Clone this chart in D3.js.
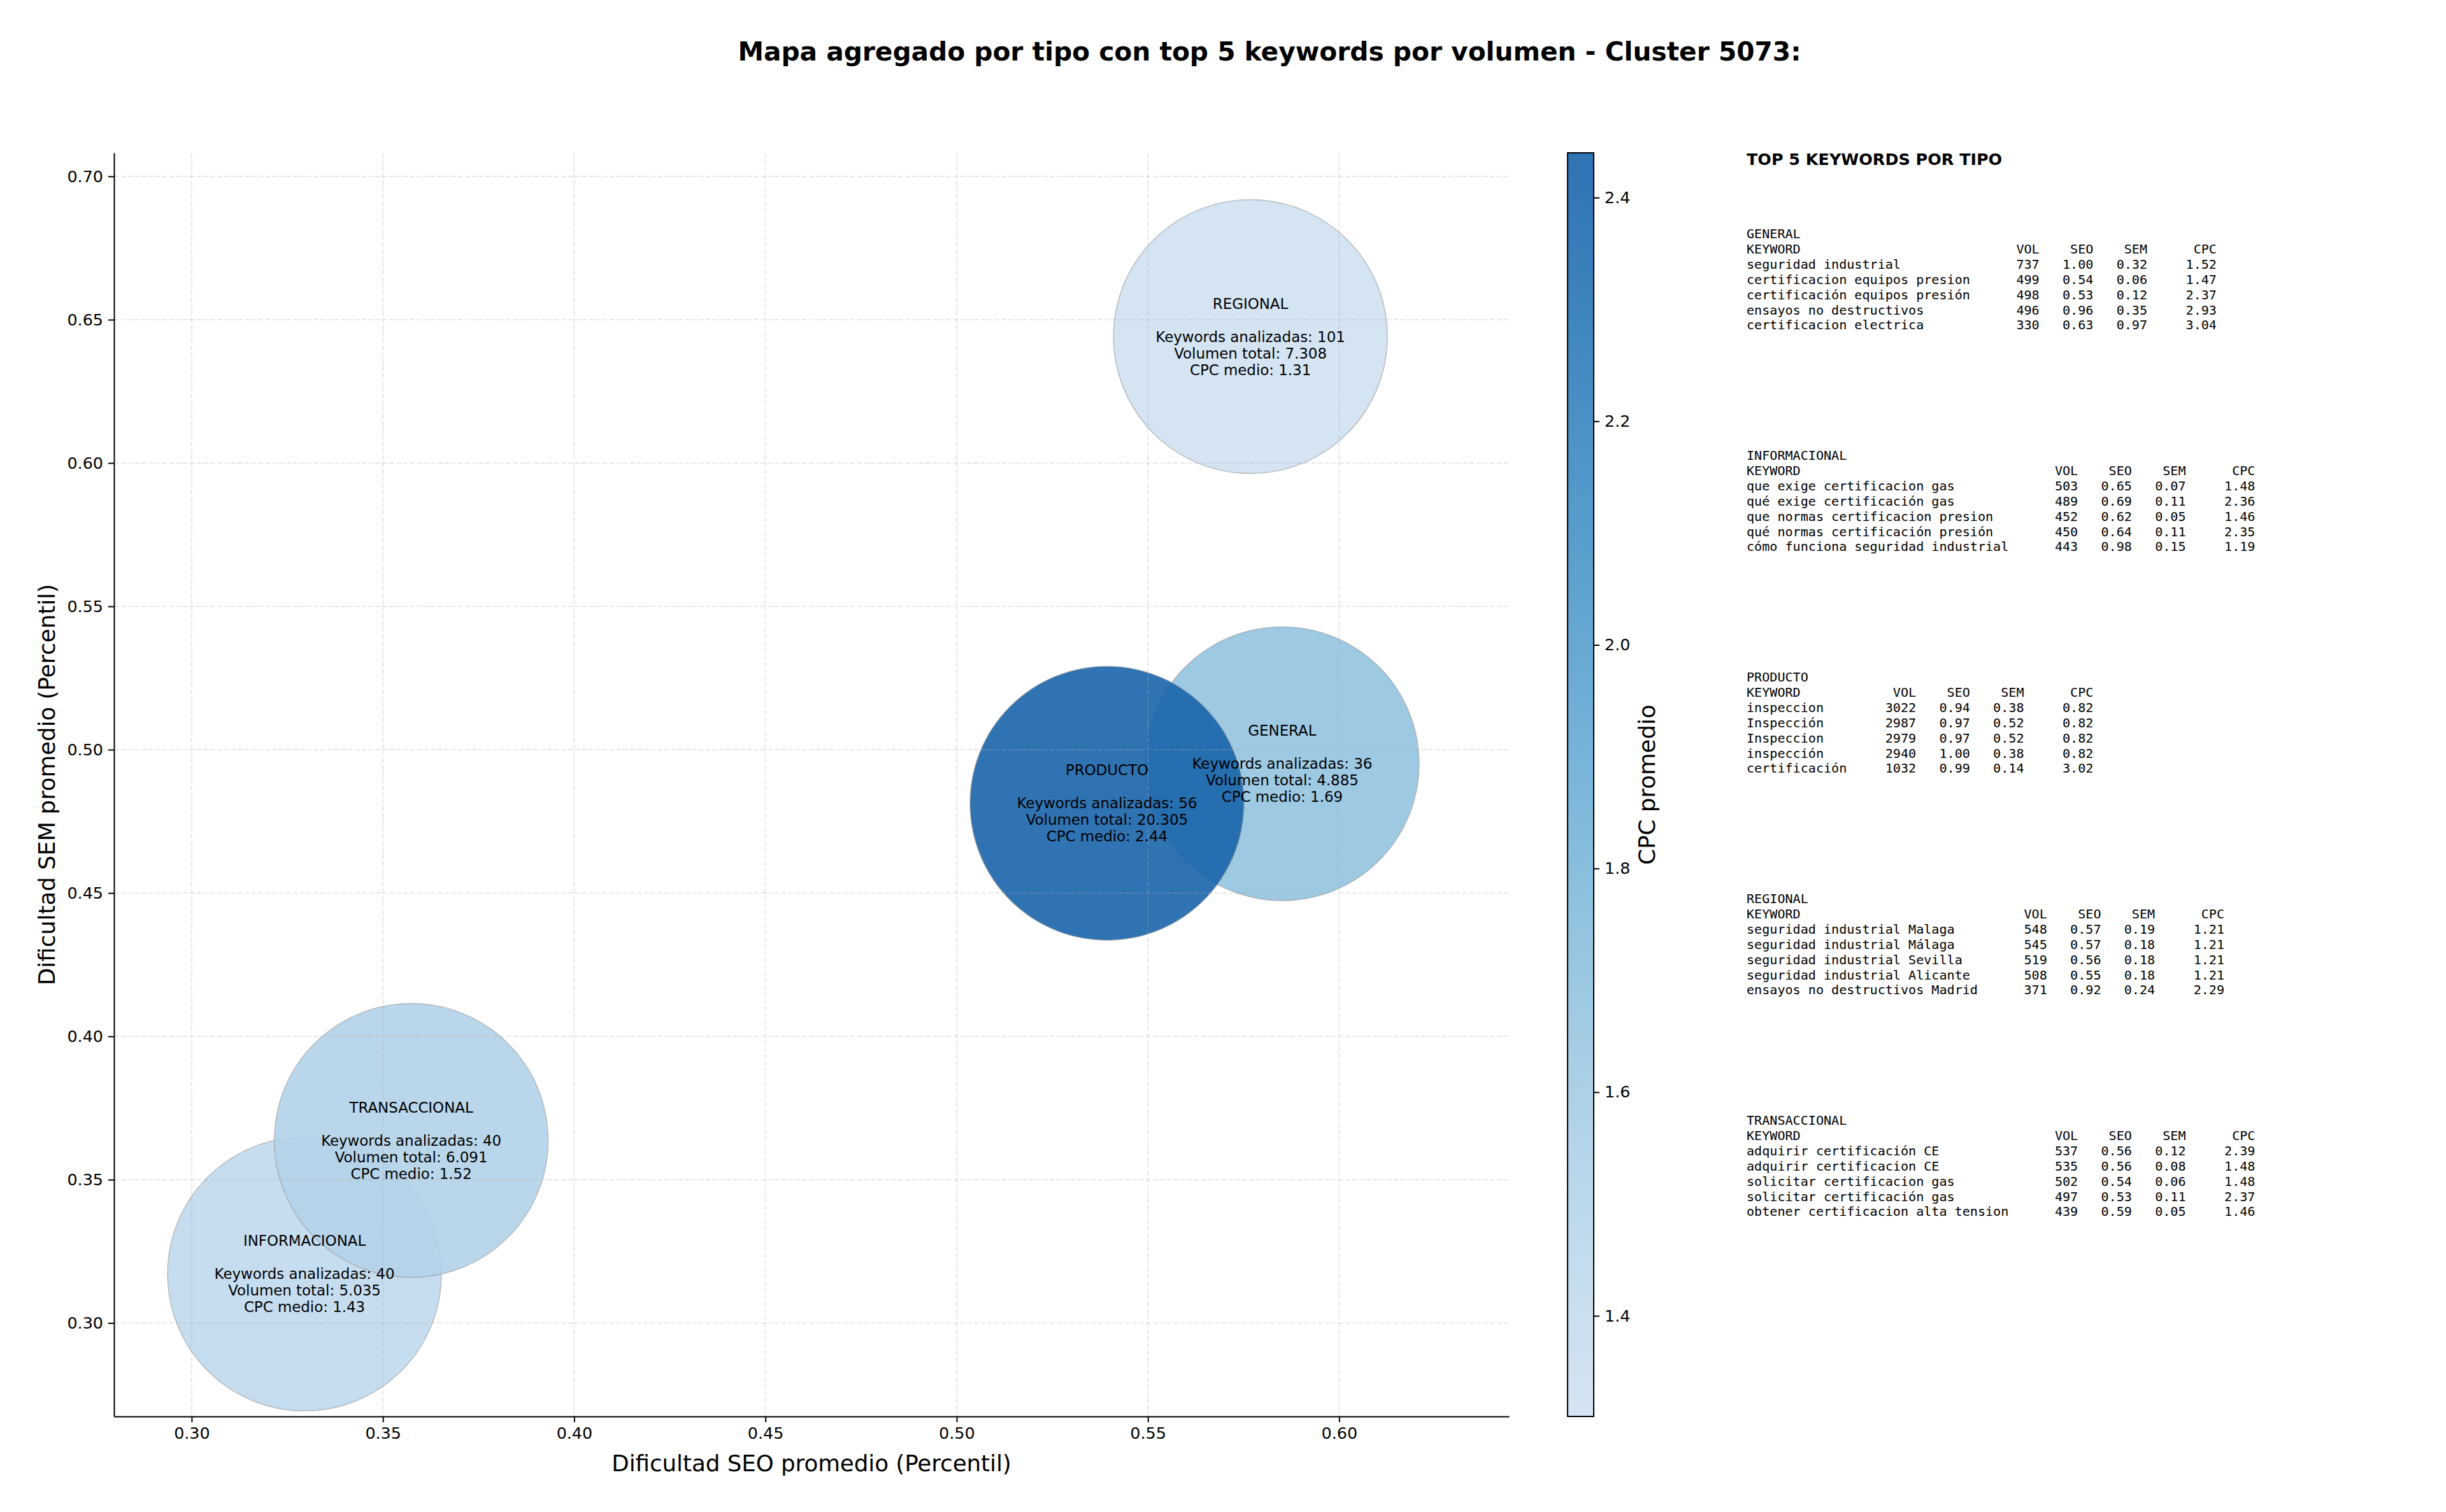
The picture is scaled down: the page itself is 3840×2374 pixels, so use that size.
<!DOCTYPE html>
<html>
<head>
<meta charset="utf-8">
<script src="https://cdn.jsdelivr.net/npm/d3@7"></script>
<style>
  body { margin: 0; background: #fff; }
  text { font-family: "DejaVu Sans", sans-serif; fill: #000; }
  .mono { font-family: "DejaVu Sans Mono", monospace; white-space: pre; }
</style>
</head>
<body>
<svg id="chart" width="3840" height="2374"></svg>
<script>

// aggregated values per tipo
const tipos = ["GENERAL", "INFORMACIONAL", "PRODUCTO", "REGIONAL", "TRANSACCIONAL"];
const seoProm = [0.5851, 0.3295, 0.5393, 0.5768, 0.3574];
const semProm = [0.4951, 0.3171, 0.4813, 0.6441, 0.3637];
const numKeywords = [36, 40, 56, 101, 40];
const volTotal = [4885, 5035, 20305, 7308, 6091];
const cpcMedio = [1.69, 1.43, 2.44, 1.31, 1.52];

// tick values
const xTicks = [0.30, 0.35, 0.40, 0.45, 0.50, 0.55, 0.60];
const yTicks = [0.30, 0.35, 0.40, 0.45, 0.50, 0.55, 0.60, 0.65, 0.70];
const cbTicks = [1.4, 1.6, 1.8, 2.0, 2.2, 2.4];

// top 5 keywords per tipo: keyword, vol, seo, sem, cpc
const kwGeneral = [
  ["seguridad industrial", 737, 1.00, 0.32, 1.52],
  ["certificacion equipos presion", 499, 0.54, 0.06, 1.47],
  ["certificación equipos presión", 498, 0.53, 0.12, 2.37],
  ["ensayos no destructivos", 496, 0.96, 0.35, 2.93],
  ["certificacion electrica", 330, 0.63, 0.97, 3.04]
];
const kwInformacional = [
  ["que exige certificacion gas", 503, 0.65, 0.07, 1.48],
  ["qué exige certificación gas", 489, 0.69, 0.11, 2.36],
  ["que normas certificacion presion", 452, 0.62, 0.05, 1.46],
  ["qué normas certificación presión", 450, 0.64, 0.11, 2.35],
  ["cómo funciona seguridad industrial", 443, 0.98, 0.15, 1.19]
];
const kwProducto = [
  ["inspeccion", 3022, 0.94, 0.38, 0.82],
  ["Inspección", 2987, 0.97, 0.52, 0.82],
  ["Inspeccion", 2979, 0.97, 0.52, 0.82],
  ["inspección", 2940, 1.00, 0.38, 0.82],
  ["certificación", 1032, 0.99, 0.14, 3.02]
];
const kwRegional = [
  ["seguridad industrial Malaga", 548, 0.57, 0.19, 1.21],
  ["seguridad industrial Málaga", 545, 0.57, 0.18, 1.21],
  ["seguridad industrial Sevilla", 519, 0.56, 0.18, 1.21],
  ["seguridad industrial Alicante", 508, 0.55, 0.18, 1.21],
  ["ensayos no destructivos Madrid", 371, 0.92, 0.24, 2.29]
];
const kwTransaccional = [
  ["adquirir certificación CE", 537, 0.56, 0.12, 2.39],
  ["adquirir certificacion CE", 535, 0.56, 0.08, 1.48],
  ["solicitar certificacion gas", 502, 0.54, 0.06, 1.48],
  ["solicitar certificación gas", 497, 0.53, 0.11, 2.37],
  ["obtener certificacion alta tension", 439, 0.59, 0.05, 1.46]
];
const kwPorTipo = [kwGeneral, kwInformacional, kwProducto, kwRegional, kwTransaccional];

const svg = d3.select("#chart");

// plot area
const pLeft = 179, pRight = 2369, pTop = 240, pBottom = 2224;
const x = d3.scaleLinear().domain([0.2797, 0.6444]).range([pLeft, pRight]);
const y = d3.scaleLinear().domain([0.2674, 0.7082]).range([pBottom, pTop]);

const cpcExtent = d3.extent(cpcMedio);
// Blues, only the middle part of the map
const color = v => d3.interpolateBlues(0.2 + 0.6 * (v - cpcExtent[0]) / (cpcExtent[1] - cpcExtent[0]));
const radius = 215;

const data = tipos.map((t, i) => ({
  tipo: t, seo: seoProm[i], sem: semProm[i], n: numKeywords[i], vol: volTotal[i], cpc: cpcMedio[i]
}));

const fmtVol = v => d3.format(",")(v).replace(/,/g, ".");

// title
svg.append("text")
  .attr("x", 1993).attr("y", 95)
  .attr("text-anchor", "middle")
  .attr("font-size", 40.7).attr("font-weight", "bold")
  .text("Mapa agregado por tipo con top 5 keywords por volumen - Cluster 5073:");

svg.append("clipPath").attr("id", "plotclip")
  .append("rect").attr("x", pLeft).attr("y", pTop)
  .attr("width", pRight - pLeft).attr("height", pBottom - pTop);

// bubbles
svg.append("g").attr("clip-path", "url(#plotclip)")
  .selectAll("circle")
  .data(data)
  .enter()
  .append("circle")
  .attr("cx", d => x(d.seo))
  .attr("cy", d => y(d.sem))
  .attr("r", radius)
  .attr("fill", d => color(d.cpc))
  .attr("fill-opacity", 0.9)
  .attr("stroke", "#999")
  .attr("stroke-opacity", 0.6)
  .attr("stroke-width", 1.5);

// grid (drawn over the bubbles like matplotlib does)
const grid = svg.append("g")
  .attr("stroke", "#b0b0b0").attr("stroke-opacity", 0.3)
  .attr("stroke-width", 2).attr("stroke-dasharray", "7.5,3.3");
grid.selectAll("line.gx").data(xTicks).enter().append("line")
  .attr("class", "gx")
  .attr("x1", d => x(d)).attr("x2", d => x(d))
  .attr("y1", pTop).attr("y2", pBottom);
grid.selectAll("line.gy").data(yTicks).enter().append("line")
  .attr("class", "gy")
  .attr("x1", pLeft).attr("x2", pRight)
  .attr("y1", d => y(d)).attr("y2", d => y(d));

// bubble labels
const labels = svg.append("g").attr("text-anchor", "middle").attr("font-size", 22.9);
data.forEach(d => {
  const lines = [d.tipo, "", "Keywords analizadas: " + d.n,
    "Volumen total: " + fmtVol(d.vol), "CPC medio: " + d.cpc.toFixed(2)];
  lines.forEach((l, k) => {
    labels.append("text")
      .attr("x", x(d.seo))
      .attr("y", y(d.sem) + (k - 2) * 26 + 8)
      .text(l);
  });
});

// axes
const xAxis = svg.append("g")
  .attr("transform", "translate(0," + pBottom + ")")
  .call(d3.axisBottom(x).tickValues(xTicks).tickFormat(d3.format(".2f"))
    .tickSize(9).tickPadding(8).tickSizeOuter(0));
const yAxis = svg.append("g")
  .attr("transform", "translate(" + pLeft + ",0)")
  .call(d3.axisLeft(y).tickValues(yTicks).tickFormat(d3.format(".2f"))
    .tickSize(9).tickPadding(8).tickSizeOuter(0));
[xAxis, yAxis].forEach(a => {
  a.selectAll("text").attr("font-size", 25.4).attr("font-family", "DejaVu Sans").attr("fill", "#000");
  a.selectAll("line").attr("stroke", "#000").attr("stroke-width", 2);
  a.select(".domain").attr("stroke", "#000").attr("stroke-width", 2);
});

svg.append("text")
  .attr("x", (pLeft + pRight) / 2).attr("y", 2310)
  .attr("text-anchor", "middle").attr("font-size", 35.6)
  .text("Dificultad SEO promedio (Percentil)");

svg.append("text")
  .attr("transform", "translate(86," + (pTop + pBottom) / 2 + ") rotate(-90)")
  .attr("text-anchor", "middle").attr("font-size", 35.6)
  .text("Dificultad SEM promedio (Percentil)");

// colorbar
const cbX = 2461, cbW = 41;
const cbY = d3.scaleLinear().domain(cpcExtent).range([pBottom, pTop]);
const grad = svg.append("defs").append("linearGradient")
  .attr("id", "cbgrad").attr("x1", 0).attr("y1", 1).attr("x2", 0).attr("y2", 0);
d3.range(0, 1.0001, 0.05).forEach(t => {
  grad.append("stop")
    .attr("offset", t)
    .attr("stop-color", color(cpcExtent[0] + t * (cpcExtent[1] - cpcExtent[0])));
});
svg.append("rect")
  .attr("x", cbX).attr("y", pTop).attr("width", cbW).attr("height", pBottom - pTop)
  .attr("fill", "url(#cbgrad)").attr("fill-opacity", 0.9);
svg.append("rect")
  .attr("x", cbX).attr("y", pTop).attr("width", cbW).attr("height", pBottom - pTop)
  .attr("fill", "none").attr("stroke", "#000").attr("stroke-width", 2);
const cbAxis = svg.append("g")
  .attr("transform", "translate(" + (cbX + cbW) + ",0)")
  .call(d3.axisRight(cbY).tickValues(cbTicks).tickFormat(d3.format(".1f"))
    .tickSize(9).tickPadding(8).tickSizeOuter(0));
cbAxis.select(".domain").remove();
cbAxis.selectAll("text").attr("font-size", 25.4).attr("font-family", "DejaVu Sans").attr("fill", "#000");
cbAxis.selectAll("line").attr("stroke", "#000").attr("stroke-width", 2);

svg.append("text")
  .attr("transform", "translate(2598," + (pTop + pBottom) / 2 + ") rotate(-90)")
  .attr("text-anchor", "middle").attr("font-size", 35.6)
  .text("CPC promedio");

// top 5 keyword tables
svg.append("text")
  .attr("x", 2742).attr("y", 259)
  .attr("font-size", 25.4).attr("font-weight", "bold")
  .text("TOP 5 KEYWORDS POR TIPO");

const lineH = 23.9, blockGap = 348;
kwPorTipo.forEach((rows, i) => {
  const w = d3.max(rows, r => r[0].length) + 3;
  const lines = [tipos[i],
    "KEYWORD".padEnd(w) + "VOL".padStart(6) + "SEO".padStart(7) + "SEM".padStart(7) + "CPC".padStart(9)];
  rows.forEach(r => {
    lines.push(r[0].padEnd(w) + String(r[1]).padStart(6) + r[2].toFixed(2).padStart(7)
      + r[3].toFixed(2).padStart(7) + r[4].toFixed(2).padStart(9));
  });
  svg.append("g").selectAll("text")
    .data(lines)
    .enter()
    .append("text")
    .attr("class", "mono")
    .attr("x", 2742)
    .attr("y", (d, k) => 374 + i * blockGap + k * lineH)
    .attr("font-size", 20.1)
    .text(d => d);
});

</script>
</body>
</html>
